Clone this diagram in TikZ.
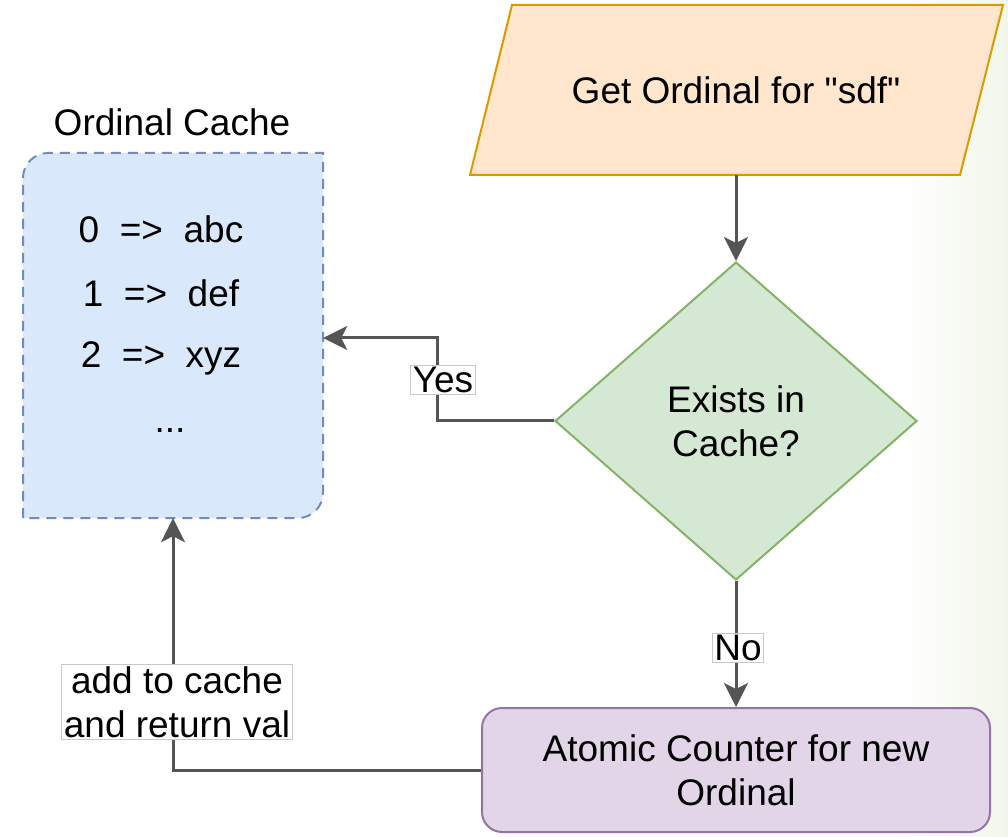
\documentclass[tikz,border=0pt]{standalone}
\usepackage{fontspec}
\setmainfont{Liberation Sans}[Ligatures=TeXOff]
\usetikzlibrary{shapes.geometric,arrows.meta}
\definecolor{linec}{RGB}{85,85,85}
\definecolor{orfill}{HTML}{FFE6CC}
\definecolor{orline}{HTML}{D79B00}
\definecolor{grfill}{HTML}{D5E8D4}
\definecolor{grline}{HTML}{82B366}
\definecolor{blfill}{HTML}{DAE8FC}
\definecolor{blline}{HTML}{6C8EBF}
\definecolor{pufill}{HTML}{E1D5E7}
\definecolor{puline}{HTML}{9673A6}
\definecolor{lblline}{RGB}{200,200,200}
\definecolor{bggreen}{RGB}{242,246,234}
\tikzset{
  txt/.style={font=\fontsize{37}{44}\selectfont, align=center},
  conn/.style={draw=linec, line width=3pt, -{Stealth[length=24pt,width=24pt,inset=6pt]}},
  lbl/.style={txt, fill=white, draw=lblline, line width=1pt, inner sep=2pt},
}
\begin{document}
\begin{tikzpicture}[x=1pt,y=1pt]
\useasboundingbox (0,0) rectangle (1008,836);
\fill[white] (0,0) rectangle (1008,836);
\shade[left color=white, right color=bggreen] (900,0) rectangle (1008,836);

% parallelogram
\filldraw[fill=orfill, draw=orline, line width=2pt] (470,661) -- (960,661) -- (1003,831) -- (512,831) -- cycle;
\node[txt, minimum width=400pt, minimum height=170pt, inner sep=0pt] (get) at (736,746) {Get Ordinal for "sdf"};

% diamond
\node[txt, diamond, draw=grline, fill=grfill, line width=2pt, minimum width=362pt, minimum height=318pt, inner sep=0pt] (exists) at (736,415) {Exists in\\Cache?};

% atomic counter
\node[txt, draw=puline, fill=pufill, line width=2pt, rounded corners=20pt, minimum width=508pt, minimum height=124pt] (atomic) at (736,66) {Atomic Counter for new\\Ordinal};

% cache box
\node[minimum width=300pt, minimum height=365pt, inner sep=0pt] (cache) at (173,500.5) {};
\filldraw[fill=blfill, draw=blline, line width=2pt, dash pattern=on 10pt off 7pt]
  (23,318) -- (23,658) arc[start angle=180, end angle=90, radius=25pt]
  -- (323,683) -- (323,343) arc[start angle=0, end angle=-90, radius=25pt] -- cycle;
\node[txt, anchor=base] (cachetitle) at (172,700) {Ordinal Cache};
\node[txt, anchor=base] (e0) at (161,593) {0\ \ =>\ \ abc};
\node[txt, anchor=base] (e1) at (161,529) {1\ \ =>\ \ def};
\node[txt, anchor=base] (e2) at (161,468) {2\ \ =>\ \ xyz};
\node[txt, anchor=base] (e3) at (170,403) {...};

% connectors
\draw[conn] (get.south) -- (exists.north);
\coordinate (yA) at (437,415);
\coordinate (yB) at (437,498);
\draw[conn] (exists.west) -- (yA) -- (yB) -- (cache.east |- yB);
\node[lbl] (yes) at (443,456) {Yes};

\draw[conn] (exists.south) -- (atomic.north);
\node[lbl] (no) at (738,188) {No};

\coordinate (bA) at (173,66);
\draw[conn] (atomic.west) -- (bA) -- (cache.south);
\node[lbl] (addlbl) at (177,134) {add to cache\\and return val};
\end{tikzpicture}
\end{document}
